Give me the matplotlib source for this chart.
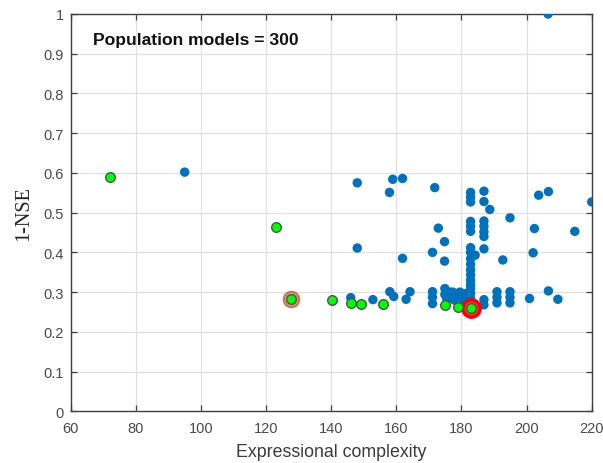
import matplotlib
matplotlib.use("Agg")
import matplotlib.pyplot as plt

# ---- data ----
blue_x = [95.0, 206.6, 148.0, 148.0, 157.9, 158.9, 161.9, 161.9, 171.8, 172.9, 174.8, 171.1, 174.8,
          182.8, 182.8, 182.8, 186.9, 186.9, 188.7, 194.9, 203.7, 206.7, 220.0,
          182.8, 182.8, 182.8, 186.9, 186.9, 186.9, 186.9, 202.4, 214.8,
          182.8, 182.8, 184.2, 182.8, 182.8, 182.8, 182.8, 182.8, 182.8,
          186.9, 192.7, 202.0,
          146.0, 152.8, 158.0, 159.2, 164.2, 163.0, 171.1, 171.1, 171.1,
          174.9, 174.9, 176.4, 175.5, 177.3, 178.2, 179.5, 180.3, 181.0, 177.8, 180.6,
          182.8, 182.8, 182.8, 182.8, 186.9, 186.9,
          190.9, 190.9, 190.9, 194.9, 194.9, 194.9, 200.9, 206.7, 209.6]
blue_y = [0.602, 1.0, 0.575, 0.411, 0.551, 0.584, 0.586, 0.385, 0.563, 0.461, 0.427, 0.400, 0.378,
          0.551, 0.539, 0.527, 0.554, 0.528, 0.508, 0.487, 0.544, 0.553, 0.527,
          0.478, 0.466, 0.453, 0.479, 0.466, 0.452, 0.440, 0.460, 0.453,
          0.412, 0.400, 0.393, 0.384, 0.370, 0.356, 0.343, 0.330, 0.318,
          0.409, 0.381, 0.399,
          0.286, 0.281, 0.301, 0.289, 0.301, 0.282, 0.301, 0.287, 0.271,
          0.309, 0.294, 0.300, 0.283, 0.300, 0.287, 0.300, 0.289, 0.296, 0.280, 0.280,
          0.309, 0.297, 0.284, 0.272, 0.281, 0.268,
          0.301, 0.287, 0.273, 0.301, 0.287, 0.273, 0.284, 0.303, 0.282]

green_x = [72.2, 122.9, 127.8, 140.1, 146.1, 149.0, 155.9, 174.8, 178.8, 182.9]
green_y = [0.590, 0.463, 0.282, 0.279, 0.273, 0.270, 0.270, 0.267, 0.263, 0.260]

brown_x = [127.8]
brown_y = [0.282]
red_x = [182.9]
red_y = [0.260]

x_ticks = [60, 80, 100, 120, 140, 160, 180, 200, 220]
y_ticks = [0, 0.1, 0.2, 0.3, 0.4, 0.5, 0.6, 0.7, 0.8, 0.9, 1]
y_tick_labels = ["0", "0.1", "0.2", "0.3", "0.4", "0.5", "0.6", "0.7", "0.8", "0.9", "1"]

# ---- figure ----
fig = plt.figure(figsize=(6.03, 4.64), dpi=100)
ax = fig.add_axes([0.1172, 0.1114, 0.8641, 0.8563])

ax.scatter(blue_x, blue_y, s=46, c="#0072BD", edgecolors="none", zorder=3)
ax.scatter(brown_x, brown_y, s=125, c="#D89878", edgecolors="#C8784F", linewidths=1.5, zorder=4)
ax.scatter(red_x, red_y, s=155, c="#FF3030", edgecolors="#FF0000", linewidths=2.5, zorder=4)
ax.scatter(green_x, green_y, s=48, c="#00FF00", edgecolors="#505050", linewidths=1.0, zorder=5)

ax.set_xlim(60, 220)
ax.set_ylim(0, 1)
ax.set_xticks(x_ticks)
ax.set_xticklabels([str(t) for t in x_ticks])
ax.set_yticks(y_ticks)
ax.set_yticklabels(y_tick_labels)

ax.grid(True, color="#e0e0e0", linewidth=0.9)
ax.set_axisbelow(True)
for sp in ax.spines.values():
    sp.set_color("#404040")
    sp.set_linewidth(1.0)
ax.tick_params(direction="in", top=True, right=True, length=4, width=0.9, color="#404040",
               labelsize=10.5, labelcolor="#4a4a4a")
ax.tick_params(axis="x", pad=7)
ax.tick_params(axis="y", pad=5)
for lab in ax.get_xticklabels() + ax.get_yticklabels():
    lab.set_family("Liberation Sans")

ax.set_xlabel("Expressional complexity", fontsize=12.8, family="Liberation Sans", color="#3a3a3a", labelpad=6)
ax.set_ylabel("1-NSE", fontsize=14.5, family="Liberation Serif", color="#222222", labelpad=7)

ax.text(0.043, 0.935, "Population models = 300", transform=ax.transAxes, fontsize=12.6,
        fontweight="bold", family="Liberation Sans", color="#111111", va="center", ha="left")

fig.savefig("out.png", dpi=100)
